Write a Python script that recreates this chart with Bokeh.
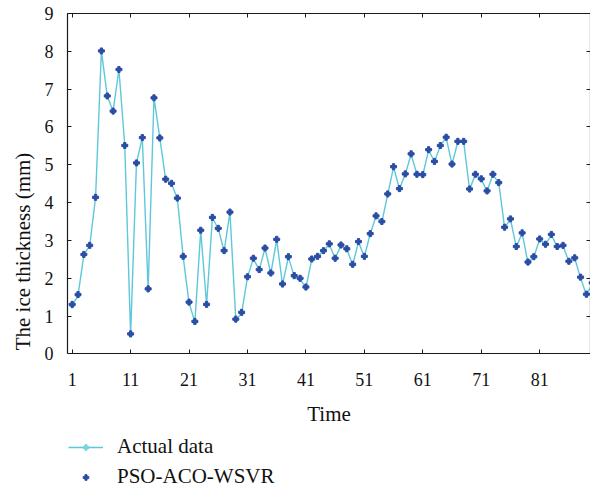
from bokeh.plotting import figure
from bokeh.models import LinearAxis, FixedTicker, Legend, LegendItem, Range1d, CustomJSTickFormatter
from bokeh.embed import file_html
from bokeh.resources import INLINE

time = list(range(1, 91))
actual = [1.28, 1.55, 2.62, 2.86, 4.13, 8.01, 6.82, 6.41, 7.52, 5.51,
          0.51, 5.04, 5.72, 1.71, 6.77, 5.71, 4.61, 4.50, 4.11, 2.56,
          1.35, 0.84, 3.26, 1.30, 3.60, 3.31, 2.72, 3.74, 0.90, 1.08,
          2.03, 2.52, 2.22, 2.79, 2.13, 3.02, 1.83, 2.56, 2.05, 1.98,
          1.75, 2.50, 2.57, 2.72, 2.90, 2.52, 2.87, 2.77, 2.35, 2.96,
          2.57, 3.17, 3.64, 3.49, 4.22, 4.94, 4.36, 4.75, 5.28, 4.74,
          4.73, 5.39, 5.08, 5.50, 5.72, 5.01, 5.61, 5.61, 4.35, 4.74,
          4.62, 4.30, 4.74, 4.52, 3.34, 3.56, 2.83, 3.19, 2.41, 2.56,
          3.03, 2.89, 3.15, 2.83, 2.86, 2.44, 2.53, 2.01, 1.56, 1.86]
predicted = [1.31, 1.57, 2.63, 2.87, 4.14, 8.01, 6.82, 6.42, 7.52, 5.51,
             0.53, 5.05, 5.72, 1.72, 6.77, 5.71, 4.62, 4.51, 4.12, 2.58,
             1.37, 0.86, 3.27, 1.31, 3.61, 3.32, 2.73, 3.75, 0.92, 1.10,
             2.04, 2.53, 2.23, 2.80, 2.14, 3.03, 1.85, 2.57, 2.07, 2.00,
             1.77, 2.51, 2.58, 2.73, 2.91, 2.53, 2.88, 2.78, 2.37, 2.97,
             2.58, 3.18, 3.65, 3.50, 4.23, 4.95, 4.37, 4.76, 5.29, 4.75,
             4.74, 5.40, 5.09, 5.51, 5.73, 5.02, 5.62, 5.62, 4.36, 4.75,
             4.63, 4.31, 4.75, 4.53, 3.35, 3.57, 2.84, 3.20, 2.43, 2.57,
             3.04, 2.90, 3.16, 2.84, 2.87, 2.45, 2.54, 2.03, 1.58, 1.88]
x_ticks = [1, 11, 21, 31, 41, 51, 61, 71, 81]
y_ticks = [0, 1, 2, 3, 4, 5, 6, 7, 8, 9]

FONT = "Liberation Serif"
AX = "#1a1a1a"

# frame extends below the x axis (y=0) to hold the axis labels and legend
p = figure(frame_width=523, frame_height=476, x_range=Range1d(0.2, 89.7), y_range=Range1d(-3.585, 9),
           output_backend="svg", toolbar_location=None,
           min_border_left=67, min_border_right=0, min_border_top=13, min_border_bottom=0)
p.grid.visible = False
p.outline_line_color = None
p.background_fill_color = "white"

xa = p.xaxis[0]
xa.ticker = FixedTicker(ticks=x_ticks)
xa.fixed_location = 0
ya = p.yaxis[0]
ya.ticker = FixedTicker(ticks=y_ticks)
ya.bounds = (0, 9)
for ax in (xa, ya):
    ax.axis_line_color = AX
    ax.axis_line_width = 1.2
    ax.major_tick_line_color = AX
    ax.major_tick_in = 4
    ax.major_tick_out = 0
    ax.minor_tick_line_color = None
    ax.major_label_text_font = FONT
    ax.major_label_text_font_size = "18px"
    ax.major_label_text_color = "#111111"
    ax.axis_label_text_font = FONT
    ax.axis_label_text_font_size = "21px"
    ax.axis_label_text_font_style = "normal"
    ax.axis_label_text_color = "#111111"

xa.axis_label = "Time"
xa.major_label_standoff = 19
xa.axis_label_standoff = 13
ya.axis_label = "The ice thickness (mm)"
ya.major_label_standoff = 14
ya.axis_label_standoff = 7

blank = CustomJSTickFormatter(code="return ''")
top = LinearAxis(ticker=FixedTicker(ticks=x_ticks), formatter=blank)
right = LinearAxis(ticker=FixedTicker(ticks=y_ticks), formatter=blank, bounds=(0, 9))
for ax in (top, right):
    ax.axis_line_color = AX
    ax.axis_line_width = 1.2
    ax.major_tick_line_color = AX
    ax.major_tick_in = 4
    ax.major_tick_out = 0
    ax.minor_tick_line_color = None
    ax.major_label_standoff = 0
p.add_layout(top, "above")
p.add_layout(right, "right")

r_line = p.line(time, actual, line_color="#5ec8da", line_width=1.4)
r_am = p.scatter(time, actual, marker="plus", size=5, color="#78d3e3")
r_pred = p.scatter(time, predicted, marker="plus", size=6, color="#2c4ca4")

legend = Legend(items=[LegendItem(label="Actual data", renderers=[r_line, r_am]),
                       LegendItem(label="PSO-ACO-WSVR", renderers=[r_pred])],
                location=(1, 0), orientation="vertical")
legend.label_text_font = FONT
legend.label_text_font_size = "21px"
legend.label_text_color = "#111111"
legend.glyph_width = 35
legend.glyph_height = 14
legend.label_height = 14
legend.spacing = 5
legend.padding = 0
legend.margin = 0
legend.label_standoff = 14
legend.border_line_color = None
legend.background_fill_alpha = 0
p.add_layout(legend, "center")

open("out.html", "w").write(file_html(p, INLINE))
